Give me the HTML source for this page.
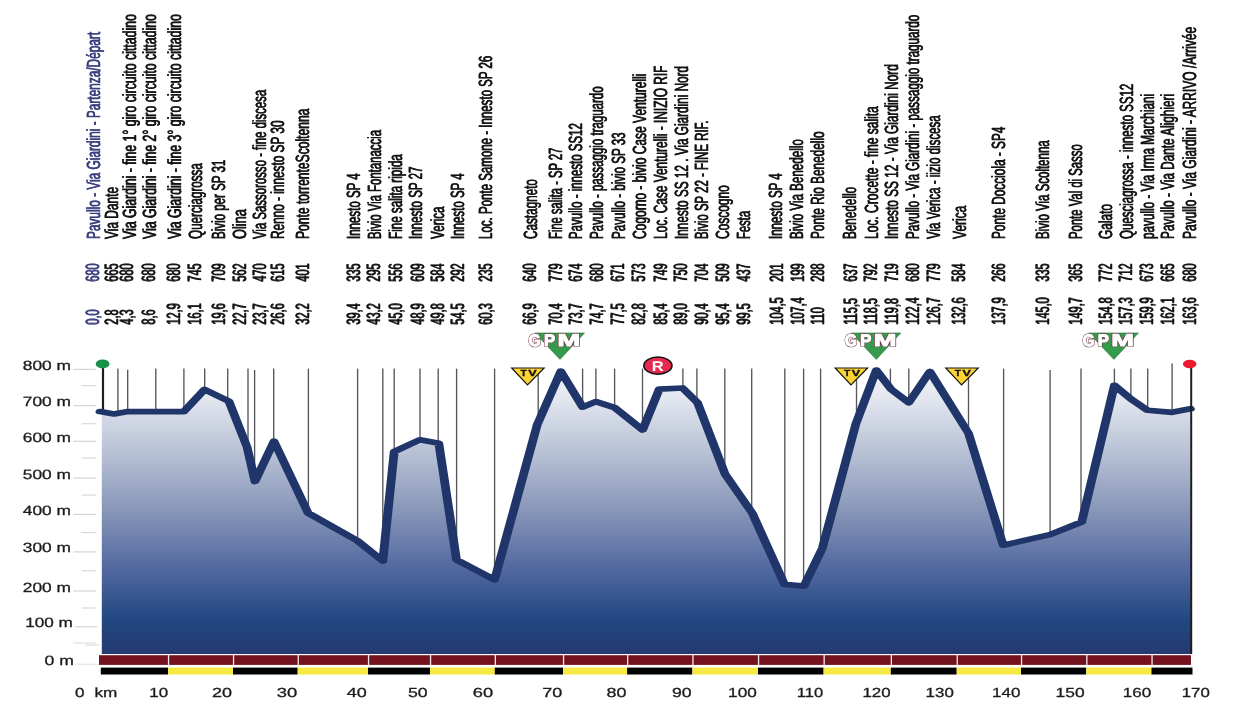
<!DOCTYPE html><html><head><meta charset="utf-8"><title>Profile</title><style>html,body{margin:0;padding:0;background:#fff}svg{display:block;filter:blur(0.4px)}#labels text,.ns{vector-effect:non-scaling-stroke}</style></head><body>
<svg width="1244" height="704" viewBox="0 0 1244 704" text-rendering="geometricPrecision" font-family="'Liberation Sans', sans-serif">
<defs>
<linearGradient id="g" x1="0" y1="369" x2="0" y2="654" gradientUnits="userSpaceOnUse">
<stop offset="0" stop-color="#f2f4f8"/>
<stop offset="0.10" stop-color="#e3e7ef"/>
<stop offset="0.30" stop-color="#b6c0d4"/>
<stop offset="0.50" stop-color="#8795b8"/>
<stop offset="0.70" stop-color="#5269a0"/>
<stop offset="0.88" stop-color="#214781"/>
<stop offset="1" stop-color="#263a70"/>
</linearGradient>
</defs>
<rect width="1244" height="704" fill="#fff"/>
<g id="labels" stroke-width="0.3">
<g id="ld">
<text transform="translate(99.3 324.93) rotate(-90) scale(0.5692 1)" font-size="19.2" fill="#3b3f7d" stroke="#3b3f7d">0,0</text>
<text transform="translate(99.3 281.93) rotate(-90) scale(0.5692 1)" font-size="19.2" fill="#3b3f7d" stroke="#3b3f7d">680</text>
<text transform="translate(117.7 324.93) rotate(-90) scale(0.5692 1)" font-size="19.2" fill="#141414" stroke="#141414">2,8</text>
<text transform="translate(117.7 281.93) rotate(-90) scale(0.5692 1)" font-size="19.2" fill="#141414" stroke="#141414">665</text>
<text transform="translate(132.9 324.93) rotate(-90) scale(0.5692 1)" font-size="19.2" fill="#141414" stroke="#141414">4,3</text>
<text transform="translate(132.9 281.93) rotate(-90) scale(0.5692 1)" font-size="19.2" fill="#141414" stroke="#141414">680</text>
<text transform="translate(155.4 324.93) rotate(-90) scale(0.5692 1)" font-size="19.2" fill="#141414" stroke="#141414">8,6</text>
<text transform="translate(155.4 281.93) rotate(-90) scale(0.5692 1)" font-size="19.2" fill="#141414" stroke="#141414">680</text>
<text transform="translate(180.4 324.93) rotate(-90) scale(0.5692 1)" font-size="19.2" fill="#141414" stroke="#141414">12,9</text>
<text transform="translate(180.4 281.93) rotate(-90) scale(0.5692 1)" font-size="19.2" fill="#141414" stroke="#141414">680</text>
<text transform="translate(201.2 324.93) rotate(-90) scale(0.5692 1)" font-size="19.2" fill="#141414" stroke="#141414">16,1</text>
<text transform="translate(201.2 281.93) rotate(-90) scale(0.5692 1)" font-size="19.2" fill="#141414" stroke="#141414">745</text>
<text transform="translate(224.5 324.93) rotate(-90) scale(0.5692 1)" font-size="19.2" fill="#141414" stroke="#141414">19,6</text>
<text transform="translate(224.5 281.93) rotate(-90) scale(0.5692 1)" font-size="19.2" fill="#141414" stroke="#141414">709</text>
<text transform="translate(246.1 324.93) rotate(-90) scale(0.5692 1)" font-size="19.2" fill="#141414" stroke="#141414">22,7</text>
<text transform="translate(246.1 281.93) rotate(-90) scale(0.5692 1)" font-size="19.2" fill="#141414" stroke="#141414">562</text>
<text transform="translate(266.1 324.93) rotate(-90) scale(0.5692 1)" font-size="19.2" fill="#141414" stroke="#141414">23,7</text>
<text transform="translate(266.1 281.93) rotate(-90) scale(0.5692 1)" font-size="19.2" fill="#141414" stroke="#141414">470</text>
<text transform="translate(283.5 324.93) rotate(-90) scale(0.5692 1)" font-size="19.2" fill="#141414" stroke="#141414">26,6</text>
<text transform="translate(283.5 281.93) rotate(-90) scale(0.5692 1)" font-size="19.2" fill="#141414" stroke="#141414">615</text>
<text transform="translate(308.8 324.93) rotate(-90) scale(0.5692 1)" font-size="19.2" fill="#141414" stroke="#141414">32,2</text>
<text transform="translate(308.8 281.93) rotate(-90) scale(0.5692 1)" font-size="19.2" fill="#141414" stroke="#141414">401</text>
<text transform="translate(359.6 324.93) rotate(-90) scale(0.5692 1)" font-size="19.2" fill="#141414" stroke="#141414">39,4</text>
<text transform="translate(359.6 281.93) rotate(-90) scale(0.5692 1)" font-size="19.2" fill="#141414" stroke="#141414">335</text>
<text transform="translate(380.4 324.93) rotate(-90) scale(0.5692 1)" font-size="19.2" fill="#141414" stroke="#141414">43,2</text>
<text transform="translate(380.4 281.93) rotate(-90) scale(0.5692 1)" font-size="19.2" fill="#141414" stroke="#141414">295</text>
<text transform="translate(402.0 324.93) rotate(-90) scale(0.5692 1)" font-size="19.2" fill="#141414" stroke="#141414">45,0</text>
<text transform="translate(402.0 281.93) rotate(-90) scale(0.5692 1)" font-size="19.2" fill="#141414" stroke="#141414">556</text>
<text transform="translate(423.6 324.93) rotate(-90) scale(0.5692 1)" font-size="19.2" fill="#141414" stroke="#141414">48,9</text>
<text transform="translate(423.6 281.93) rotate(-90) scale(0.5692 1)" font-size="19.2" fill="#141414" stroke="#141414">609</text>
<text transform="translate(443.6 324.93) rotate(-90) scale(0.5692 1)" font-size="19.2" fill="#141414" stroke="#141414">49,8</text>
<text transform="translate(443.6 281.93) rotate(-90) scale(0.5692 1)" font-size="19.2" fill="#141414" stroke="#141414">584</text>
<text transform="translate(464.4 324.93) rotate(-90) scale(0.5692 1)" font-size="19.2" fill="#141414" stroke="#141414">54,5</text>
<text transform="translate(464.4 281.93) rotate(-90) scale(0.5692 1)" font-size="19.2" fill="#141414" stroke="#141414">292</text>
<text transform="translate(492.2 324.93) rotate(-90) scale(0.5692 1)" font-size="19.2" fill="#141414" stroke="#141414">60,3</text>
<text transform="translate(492.2 281.93) rotate(-90) scale(0.5692 1)" font-size="19.2" fill="#141414" stroke="#141414">235</text>
<text transform="translate(536.3 324.93) rotate(-90) scale(0.5692 1)" font-size="19.2" fill="#141414" stroke="#141414">66,9</text>
<text transform="translate(536.3 281.93) rotate(-90) scale(0.5692 1)" font-size="19.2" fill="#141414" stroke="#141414">640</text>
<text transform="translate(562.0 324.93) rotate(-90) scale(0.5692 1)" font-size="19.2" fill="#141414" stroke="#141414">70,4</text>
<text transform="translate(562.0 281.93) rotate(-90) scale(0.5692 1)" font-size="19.2" fill="#141414" stroke="#141414">779</text>
<text transform="translate(582.0 324.93) rotate(-90) scale(0.5692 1)" font-size="19.2" fill="#141414" stroke="#141414">73,7</text>
<text transform="translate(582.0 281.93) rotate(-90) scale(0.5692 1)" font-size="19.2" fill="#141414" stroke="#141414">674</text>
<text transform="translate(602.8 324.93) rotate(-90) scale(0.5692 1)" font-size="19.2" fill="#141414" stroke="#141414">74,7</text>
<text transform="translate(602.8 281.93) rotate(-90) scale(0.5692 1)" font-size="19.2" fill="#141414" stroke="#141414">680</text>
<text transform="translate(624.4 324.93) rotate(-90) scale(0.5692 1)" font-size="19.2" fill="#141414" stroke="#141414">77,5</text>
<text transform="translate(624.4 281.93) rotate(-90) scale(0.5692 1)" font-size="19.2" fill="#141414" stroke="#141414">671</text>
<text transform="translate(645.2 324.93) rotate(-90) scale(0.5692 1)" font-size="19.2" fill="#141414" stroke="#141414">82,8</text>
<text transform="translate(645.2 281.93) rotate(-90) scale(0.5692 1)" font-size="19.2" fill="#141414" stroke="#141414">573</text>
<text transform="translate(666.9 324.93) rotate(-90) scale(0.5692 1)" font-size="19.2" fill="#141414" stroke="#141414">85,4</text>
<text transform="translate(666.9 281.93) rotate(-90) scale(0.5692 1)" font-size="19.2" fill="#141414" stroke="#141414">749</text>
<text transform="translate(687.2 324.93) rotate(-90) scale(0.5692 1)" font-size="19.2" fill="#141414" stroke="#141414">89,0</text>
<text transform="translate(687.2 281.93) rotate(-90) scale(0.5692 1)" font-size="19.2" fill="#141414" stroke="#141414">750</text>
<text transform="translate(708.0 324.93) rotate(-90) scale(0.5692 1)" font-size="19.2" fill="#141414" stroke="#141414">90,4</text>
<text transform="translate(708.0 281.93) rotate(-90) scale(0.5692 1)" font-size="19.2" fill="#141414" stroke="#141414">704</text>
<text transform="translate(728.8 324.93) rotate(-90) scale(0.5692 1)" font-size="19.2" fill="#141414" stroke="#141414">95,4</text>
<text transform="translate(728.8 281.93) rotate(-90) scale(0.5692 1)" font-size="19.2" fill="#141414" stroke="#141414">509</text>
<text transform="translate(749.6 324.93) rotate(-90) scale(0.5692 1)" font-size="19.2" fill="#141414" stroke="#141414">99,5</text>
<text transform="translate(749.6 281.93) rotate(-90) scale(0.5692 1)" font-size="19.2" fill="#141414" stroke="#141414">437</text>
<text transform="translate(782.8 324.93) rotate(-90) scale(0.5692 1)" font-size="19.2" fill="#141414" stroke="#141414">104,5</text>
<text transform="translate(782.8 281.93) rotate(-90) scale(0.5692 1)" font-size="19.2" fill="#141414" stroke="#141414">201</text>
<text transform="translate(803.6 324.93) rotate(-90) scale(0.5692 1)" font-size="19.2" fill="#141414" stroke="#141414">107,4</text>
<text transform="translate(803.6 281.93) rotate(-90) scale(0.5692 1)" font-size="19.2" fill="#141414" stroke="#141414">199</text>
<text transform="translate(824.4 324.93) rotate(-90) scale(0.5692 1)" font-size="19.2" fill="#141414" stroke="#141414">110</text>
<text transform="translate(824.4 281.93) rotate(-90) scale(0.5692 1)" font-size="19.2" fill="#141414" stroke="#141414">288</text>
<text transform="translate(856.9 324.93) rotate(-90) scale(0.5692 1)" font-size="19.2" fill="#141414" stroke="#141414">115,5</text>
<text transform="translate(856.9 281.93) rotate(-90) scale(0.5692 1)" font-size="19.2" fill="#141414" stroke="#141414">637</text>
<text transform="translate(877.2 324.93) rotate(-90) scale(0.5692 1)" font-size="19.2" fill="#141414" stroke="#141414">118,5</text>
<text transform="translate(877.2 281.93) rotate(-90) scale(0.5692 1)" font-size="19.2" fill="#141414" stroke="#141414">792</text>
<text transform="translate(898.0 324.93) rotate(-90) scale(0.5692 1)" font-size="19.2" fill="#141414" stroke="#141414">119,8</text>
<text transform="translate(898.0 281.93) rotate(-90) scale(0.5692 1)" font-size="19.2" fill="#141414" stroke="#141414">719</text>
<text transform="translate(918.8 324.93) rotate(-90) scale(0.5692 1)" font-size="19.2" fill="#141414" stroke="#141414">122,4</text>
<text transform="translate(918.8 281.93) rotate(-90) scale(0.5692 1)" font-size="19.2" fill="#141414" stroke="#141414">680</text>
<text transform="translate(939.6 324.93) rotate(-90) scale(0.5692 1)" font-size="19.2" fill="#141414" stroke="#141414">126,7</text>
<text transform="translate(939.6 281.93) rotate(-90) scale(0.5692 1)" font-size="19.2" fill="#141414" stroke="#141414">779</text>
<text transform="translate(965.3 324.93) rotate(-90) scale(0.5692 1)" font-size="19.2" fill="#141414" stroke="#141414">132,6</text>
<text transform="translate(965.3 281.93) rotate(-90) scale(0.5692 1)" font-size="19.2" fill="#141414" stroke="#141414">584</text>
<text transform="translate(1005.3 324.93) rotate(-90) scale(0.5692 1)" font-size="19.2" fill="#141414" stroke="#141414">137,9</text>
<text transform="translate(1005.3 281.93) rotate(-90) scale(0.5692 1)" font-size="19.2" fill="#141414" stroke="#141414">266</text>
<text transform="translate(1048.5 324.93) rotate(-90) scale(0.5692 1)" font-size="19.2" fill="#141414" stroke="#141414">145,0</text>
<text transform="translate(1048.5 281.93) rotate(-90) scale(0.5692 1)" font-size="19.2" fill="#141414" stroke="#141414">335</text>
<text transform="translate(1081.6 324.93) rotate(-90) scale(0.5692 1)" font-size="19.2" fill="#141414" stroke="#141414">149,7</text>
<text transform="translate(1081.6 281.93) rotate(-90) scale(0.5692 1)" font-size="19.2" fill="#141414" stroke="#141414">365</text>
<text transform="translate(1111.6 324.93) rotate(-90) scale(0.5692 1)" font-size="19.2" fill="#141414" stroke="#141414">154,8</text>
<text transform="translate(1111.6 281.93) rotate(-90) scale(0.5692 1)" font-size="19.2" fill="#141414" stroke="#141414">772</text>
<text transform="translate(1132.4 324.93) rotate(-90) scale(0.5692 1)" font-size="19.2" fill="#141414" stroke="#141414">157,3</text>
<text transform="translate(1132.4 281.93) rotate(-90) scale(0.5692 1)" font-size="19.2" fill="#141414" stroke="#141414">712</text>
<text transform="translate(1153.2 324.93) rotate(-90) scale(0.5692 1)" font-size="19.2" fill="#141414" stroke="#141414">159,9</text>
<text transform="translate(1153.2 281.93) rotate(-90) scale(0.5692 1)" font-size="19.2" fill="#141414" stroke="#141414">673</text>
<text transform="translate(1174.0 324.93) rotate(-90) scale(0.5692 1)" font-size="19.2" fill="#141414" stroke="#141414">162,1</text>
<text transform="translate(1174.0 281.93) rotate(-90) scale(0.5692 1)" font-size="19.2" fill="#141414" stroke="#141414">665</text>
<text transform="translate(1195.6 324.93) rotate(-90) scale(0.5692 1)" font-size="19.2" fill="#141414" stroke="#141414">163,6</text>
<text transform="translate(1195.6 281.93) rotate(-90) scale(0.5692 1)" font-size="19.2" fill="#141414" stroke="#141414">680</text>
</g>
<use href="#ld" transform="translate(0 -0.65)"/>
<g id="ln">
<text transform="translate(99.6 239.2) rotate(-90)" font-size="19.0" fill="#3b3f7d" stroke="#3b3f7d" textLength="207.1" lengthAdjust="spacingAndGlyphs">Pavullo - Via Giardini - Partenza/Départ</text>
<text transform="translate(118.0 239.2) rotate(-90)" font-size="19.0" fill="#141414" stroke="#141414" textLength="52.1" lengthAdjust="spacingAndGlyphs">Via Dante</text>
<text transform="translate(135.8 239.2) rotate(-90)" font-size="19.0" fill="#141414" stroke="#141414" textLength="224.9" lengthAdjust="spacingAndGlyphs">Via Giardini - fine 1° giro circuito cittadino</text>
<text transform="translate(155.7 239.2) rotate(-90)" font-size="19.0" fill="#141414" stroke="#141414" textLength="224.9" lengthAdjust="spacingAndGlyphs">Via Giardini - fine 2° giro circuito cittadino</text>
<text transform="translate(180.7 239.2) rotate(-90)" font-size="19.0" fill="#141414" stroke="#141414" textLength="224.9" lengthAdjust="spacingAndGlyphs">Via Giardini - fine 3° giro circuito cittadino</text>
<text transform="translate(201.5 239.2) rotate(-90)" font-size="19.0" fill="#141414" stroke="#141414" textLength="75.9" lengthAdjust="spacingAndGlyphs">Querciagrossa</text>
<text transform="translate(224.8 239.2) rotate(-90)" font-size="19.0" fill="#141414" stroke="#141414" textLength="79.3" lengthAdjust="spacingAndGlyphs">Bivio per SP 31</text>
<text transform="translate(246.4 239.2) rotate(-90)" font-size="19.0" fill="#141414" stroke="#141414" textLength="29.9" lengthAdjust="spacingAndGlyphs">Olina</text>
<text transform="translate(266.4 239.2) rotate(-90)" font-size="19.0" fill="#141414" stroke="#141414" textLength="149.2" lengthAdjust="spacingAndGlyphs">Via Sassorosso - fine discesa</text>
<text transform="translate(283.8 239.2) rotate(-90)" font-size="19.0" fill="#141414" stroke="#141414" textLength="118.5" lengthAdjust="spacingAndGlyphs">Renno - innesto SP 30</text>
<text transform="translate(309.1 239.2) rotate(-90)" font-size="19.0" fill="#141414" stroke="#141414" textLength="130.4" lengthAdjust="spacingAndGlyphs">Ponte torrenteScoltenna</text>
<text transform="translate(359.9 239.2) rotate(-90)" font-size="19.0" fill="#141414" stroke="#141414" textLength="65.7" lengthAdjust="spacingAndGlyphs">Innesto SP 4</text>
<text transform="translate(380.7 239.2) rotate(-90)" font-size="19.0" fill="#141414" stroke="#141414" textLength="109.0" lengthAdjust="spacingAndGlyphs">Bivio Via Fontanaccia</text>
<text transform="translate(402.3 239.2) rotate(-90)" font-size="19.0" fill="#141414" stroke="#141414" textLength="84.8" lengthAdjust="spacingAndGlyphs">Fine salita ripida</text>
<text transform="translate(422.0 239.2) rotate(-90)" font-size="19.0" fill="#141414" stroke="#141414" textLength="72.5" lengthAdjust="spacingAndGlyphs">Innesto SP 27</text>
<text transform="translate(443.9 239.2) rotate(-90)" font-size="19.0" fill="#141414" stroke="#141414" textLength="32.6" lengthAdjust="spacingAndGlyphs">Verica</text>
<text transform="translate(463.7 239.2) rotate(-90)" font-size="19.0" fill="#141414" stroke="#141414" textLength="65.7" lengthAdjust="spacingAndGlyphs">Innesto SP 4</text>
<text transform="translate(491.7 239.2) rotate(-90)" font-size="19.0" fill="#141414" stroke="#141414" textLength="183.3" lengthAdjust="spacingAndGlyphs">Loc. Ponte Samone - Innesto SP 26</text>
<text transform="translate(536.6 239.2) rotate(-90)" font-size="19.0" fill="#141414" stroke="#141414" textLength="59.9" lengthAdjust="spacingAndGlyphs">Castagneto</text>
<text transform="translate(562.3 239.2) rotate(-90)" font-size="19.0" fill="#141414" stroke="#141414" textLength="91.3" lengthAdjust="spacingAndGlyphs">Fine salita - SP 27</text>
<text transform="translate(582.3 239.2) rotate(-90)" font-size="19.0" fill="#141414" stroke="#141414" textLength="115.8" lengthAdjust="spacingAndGlyphs">Pavullo - innesto SS12</text>
<text transform="translate(603.1 239.2) rotate(-90)" font-size="19.0" fill="#141414" stroke="#141414" textLength="152.6" lengthAdjust="spacingAndGlyphs">Pavullo - passaggio traguardo</text>
<text transform="translate(624.7 239.2) rotate(-90)" font-size="19.0" fill="#141414" stroke="#141414" textLength="106.6" lengthAdjust="spacingAndGlyphs">Pavullo - bivio SP 33</text>
<text transform="translate(645.5 239.2) rotate(-90)" font-size="19.0" fill="#141414" stroke="#141414" textLength="165.4" lengthAdjust="spacingAndGlyphs">Cogorno - bivio Case Venturelli</text>
<text transform="translate(667.2 239.2) rotate(-90)" font-size="19.0" fill="#141414" stroke="#141414" textLength="173.4" lengthAdjust="spacingAndGlyphs">Loc. Case Venturelli - INIZIO RIF</text>
<text transform="translate(687.5 239.2) rotate(-90)" font-size="19.0" fill="#141414" stroke="#141414" textLength="173.1" lengthAdjust="spacingAndGlyphs">Innesto SS 12 . Via Giardini Nord</text>
<text transform="translate(708.3 239.2) rotate(-90)" font-size="19.0" fill="#141414" stroke="#141414" textLength="118.5" lengthAdjust="spacingAndGlyphs">Bivio SP 22 - FINE RIF.</text>
<text transform="translate(729.1 239.2) rotate(-90)" font-size="19.0" fill="#141414" stroke="#141414" textLength="53.8" lengthAdjust="spacingAndGlyphs">Coscogno</text>
<text transform="translate(749.9 239.2) rotate(-90)" font-size="19.0" fill="#141414" stroke="#141414" textLength="28.2" lengthAdjust="spacingAndGlyphs">Festa</text>
<text transform="translate(781.9 239.2) rotate(-90)" font-size="19.0" fill="#141414" stroke="#141414" textLength="65.7" lengthAdjust="spacingAndGlyphs">Innesto SP 4</text>
<text transform="translate(802.9 239.2) rotate(-90)" font-size="19.0" fill="#141414" stroke="#141414" textLength="99.8" lengthAdjust="spacingAndGlyphs">Bivio Via Benedello</text>
<text transform="translate(823.7 239.2) rotate(-90)" font-size="19.0" fill="#141414" stroke="#141414" textLength="107.6" lengthAdjust="spacingAndGlyphs">Ponte Rio Benedello</text>
<text transform="translate(856.4 239.2) rotate(-90)" font-size="19.0" fill="#141414" stroke="#141414" textLength="52.1" lengthAdjust="spacingAndGlyphs">Benedello</text>
<text transform="translate(877.5 239.2) rotate(-90)" font-size="19.0" fill="#141414" stroke="#141414" textLength="132.8" lengthAdjust="spacingAndGlyphs">Loc. Crocette - fine salita</text>
<text transform="translate(898.3 239.2) rotate(-90)" font-size="19.0" fill="#141414" stroke="#141414" textLength="174.8" lengthAdjust="spacingAndGlyphs">Innesto SS 12 - Via Giardini Nord</text>
<text transform="translate(919.1 239.2) rotate(-90)" font-size="19.0" fill="#141414" stroke="#141414" textLength="224.2" lengthAdjust="spacingAndGlyphs">Pavullo - Via Giardini - passaggio traguardo</text>
<text transform="translate(939.9 239.2) rotate(-90)" font-size="19.0" fill="#141414" stroke="#141414" textLength="123.6" lengthAdjust="spacingAndGlyphs">Via Verica - iizio discesa</text>
<text transform="translate(965.6 239.2) rotate(-90)" font-size="19.0" fill="#141414" stroke="#141414" textLength="33.3" lengthAdjust="spacingAndGlyphs">Verica</text>
<text transform="translate(1004.6 239.2) rotate(-90)" font-size="19.0" fill="#141414" stroke="#141414" textLength="112.4" lengthAdjust="spacingAndGlyphs">Ponte Docciola - SP4</text>
<text transform="translate(1048.8 239.2) rotate(-90)" font-size="19.0" fill="#141414" stroke="#141414" textLength="98.7" lengthAdjust="spacingAndGlyphs">Bivio Via Scoltenna</text>
<text transform="translate(1081.9 239.2) rotate(-90)" font-size="19.0" fill="#141414" stroke="#141414" textLength="94.7" lengthAdjust="spacingAndGlyphs">Ponte Val di Sasso</text>
<text transform="translate(1111.9 239.2) rotate(-90)" font-size="19.0" fill="#141414" stroke="#141414" textLength="35.0" lengthAdjust="spacingAndGlyphs">Galato</text>
<text transform="translate(1132.7 239.2) rotate(-90)" font-size="19.0" fill="#141414" stroke="#141414" textLength="155.3" lengthAdjust="spacingAndGlyphs">Quesciagrossa - innesto SS12</text>
<text transform="translate(1153.5 239.2) rotate(-90)" font-size="19.0" fill="#141414" stroke="#141414" textLength="145.1" lengthAdjust="spacingAndGlyphs">pavullo - Via Irma Marchiani</text>
<text transform="translate(1174.3 239.2) rotate(-90)" font-size="19.0" fill="#141414" stroke="#141414" textLength="145.1" lengthAdjust="spacingAndGlyphs">Pavullo - Via Dante Alighieri</text>
<text transform="translate(1195.9 239.2) rotate(-90)" font-size="19.0" fill="#141414" stroke="#141414" textLength="212.2" lengthAdjust="spacingAndGlyphs">Pavullo - Via Giardini - ARRIVO /Arrivée</text>
</g>
<use href="#ln" transform="translate(0 -0.4)"/>
</g>
<g id="yaxis" font-size="13.4" fill="#1c1c1c" stroke="#1c1c1c" stroke-width="0.3">
<line x1="73.3" x2="95.8" y1="369.4" y2="369.4" stroke="#d4d4d0" stroke-width="1.2"/>
<text x="22.8" y="369.9" textLength="48.1" lengthAdjust="spacingAndGlyphs">800 m</text>
<line x1="73.3" x2="95.8" y1="405.7" y2="405.7" stroke="#d4d4d0" stroke-width="1.2"/>
<text x="22.8" y="406.2" textLength="48.1" lengthAdjust="spacingAndGlyphs">700 m</text>
<line x1="73.3" x2="95.8" y1="441.3" y2="441.3" stroke="#d4d4d0" stroke-width="1.2"/>
<text x="22.8" y="441.8" textLength="48.1" lengthAdjust="spacingAndGlyphs">600 m</text>
<line x1="73.3" x2="95.8" y1="478.1" y2="478.1" stroke="#d4d4d0" stroke-width="1.2"/>
<text x="22.8" y="478.6" textLength="48.1" lengthAdjust="spacingAndGlyphs">500 m</text>
<line x1="73.3" x2="95.8" y1="514.4" y2="514.4" stroke="#d4d4d0" stroke-width="1.2"/>
<text x="22.8" y="514.9" textLength="48.1" lengthAdjust="spacingAndGlyphs">400 m</text>
<line x1="73.3" x2="95.8" y1="551.9" y2="551.9" stroke="#d4d4d0" stroke-width="1.2"/>
<text x="22.8" y="552.4" textLength="48.1" lengthAdjust="spacingAndGlyphs">300 m</text>
<line x1="73.3" x2="95.8" y1="591.0" y2="591.0" stroke="#d4d4d0" stroke-width="1.2"/>
<text x="22.8" y="591.5" textLength="48.1" lengthAdjust="spacingAndGlyphs">200 m</text>
<line x1="75.2" x2="97" y1="626.8" y2="626.8" stroke="#d4d4d0" stroke-width="1.2"/>
<text x="25.2" y="627.3" textLength="47.6" lengthAdjust="spacingAndGlyphs">100 m</text>
<line x1="75.7" x2="98" y1="664.3" y2="664.3" stroke="#e6e6e3" stroke-width="1.2"/>
<text x="44.5" y="664.8" textLength="29.3" lengthAdjust="spacingAndGlyphs">0 m</text>
<line x1="81.7" x2="95.8" y1="385.7" y2="385.7" stroke="#d8d8d4" stroke-width="1.2"/>
<line x1="81.7" x2="95.8" y1="423.7" y2="423.7" stroke="#d8d8d4" stroke-width="1.2"/>
<line x1="81.7" x2="95.8" y1="458.1" y2="458.1" stroke="#d8d8d4" stroke-width="1.2"/>
<line x1="81.7" x2="95.8" y1="495.1" y2="495.1" stroke="#d8d8d4" stroke-width="1.2"/>
<line x1="81.7" x2="95.8" y1="532.6" y2="532.6" stroke="#d8d8d4" stroke-width="1.2"/>
<line x1="81.7" x2="95.8" y1="570.8" y2="570.8" stroke="#d8d8d4" stroke-width="1.2"/>
<line x1="81.7" x2="95.8" y1="608.0" y2="608.0" stroke="#d8d8d4" stroke-width="1.2"/>
<line x1="73.3" x2="95.7" y1="643" y2="643" stroke="#dcdcd8" stroke-width="1.1"/>
<line x1="85.4" x2="98.9" y1="645" y2="645" stroke="#d8d8d4" stroke-width="1.1"/>
</g>
<g id="vlines" stroke="#56565c" stroke-width="1.35">
<line x1="117.9" x2="117.9" y1="368.6" y2="413.3"/>
<line x1="127.7" x2="127.7" y1="369.8" y2="411.7"/>
<line x1="155.8" x2="155.8" y1="368.6" y2="411.7"/>
<line x1="183.9" x2="183.9" y1="368.6" y2="411.5"/>
<line x1="204.7" x2="204.7" y1="368.6" y2="389.6"/>
<line x1="227.7" x2="227.7" y1="368.6" y2="400.7"/>
<line x1="248" x2="248" y1="368.6" y2="451.2"/>
<line x1="254.6" x2="254.6" y1="370.0" y2="479.8"/>
<line x1="273.7" x2="273.7" y1="368.6" y2="441.8"/>
<line x1="308.4" x2="308.4" y1="368.6" y2="513.2"/>
<line x1="357.6" x2="357.6" y1="368.6" y2="540.8"/>
<line x1="382.8" x2="382.8" y1="368.6" y2="561.0"/>
<line x1="394.2" x2="394.2" y1="368.6" y2="451.7"/>
<line x1="420" x2="420" y1="368.6" y2="439.8"/>
<line x1="438.2" x2="438.2" y1="368.6" y2="443.1"/>
<line x1="456.6" x2="456.6" y1="368.6" y2="559.9"/>
<line x1="494.6" x2="494.6" y1="368.6" y2="579.8"/>
<line x1="538.2" x2="538.2" y1="368.6" y2="422.5"/>
<line x1="561" x2="561" y1="368.6" y2="371.5"/>
<line x1="582.6" x2="582.6" y1="368.6" y2="407.1"/>
<line x1="595.9" x2="595.9" y1="368.6" y2="401.6"/>
<line x1="614.6" x2="614.6" y1="368.6" y2="407.7"/>
<line x1="642.5" x2="642.5" y1="368.6" y2="429.8"/>
<line x1="682.9" x2="682.9" y1="368.6" y2="388.4"/>
<line x1="696.9" x2="696.9" y1="368.6" y2="402.0"/>
<line x1="724.8" x2="724.8" y1="368.6" y2="473.5"/>
<line x1="751.7" x2="751.7" y1="368.6" y2="512.3"/>
<line x1="784.8" x2="784.8" y1="368.6" y2="584.4"/>
<line x1="803.6" x2="803.6" y1="368.6" y2="586.1"/>
<line x1="820.6" x2="820.6" y1="368.6" y2="551.8"/>
<line x1="856.5" x2="856.5" y1="368.6" y2="422.1"/>
<line x1="876.6" x2="876.6" y1="368.6" y2="370.5"/>
<line x1="890.4" x2="890.4" y1="368.6" y2="388.4"/>
<line x1="908.8" x2="908.8" y1="368.6" y2="402.6"/>
<line x1="930" x2="930" y1="368.6" y2="371.8"/>
<line x1="968.5" x2="968.5" y1="368.6" y2="433.3"/>
<line x1="1003.6" x2="1003.6" y1="368.6" y2="545.1"/>
<line x1="1050.1" x2="1050.1" y1="370.0" y2="534.6"/>
<line x1="1081" x2="1081" y1="368.6" y2="522.3"/>
<line x1="1114.4" x2="1114.4" y1="368.6" y2="385.4"/>
<line x1="1130.9" x2="1130.9" y1="368.6" y2="399.0"/>
<line x1="1147.7" x2="1147.7" y1="368.6" y2="410.3"/>
<line x1="1172.1" x2="1172.1" y1="363.6" y2="412.3"/>
</g>
<line x1="103" x2="103" y1="364" y2="411" stroke="#1e1e22" stroke-width="2.2"/>
<path d="M101.8 654.0 L101.8 411.6 L113.9 414.0 L126.6 411.7 L183.7 411.7 L204.5 389.5 L228.9 401.3 L247.0 446.9 L255.0 481.5 L274.0 441.2 L308.1 513.0 L357.3 540.6 L382.8 561.0 L394.2 451.7 L419.8 439.8 L438.8 443.2 L456.5 559.8 L494.6 579.8 L537.2 424.8 L560.8 371.2 L582.6 407.1 L595.9 401.6 L614.6 407.7 L642.6 429.9 L659.3 389.0 L682.5 388.0 L697.5 402.6 L725.0 474.0 L752.3 513.2 L784.5 584.4 L803.9 586.1 L822.3 548.3 L856.1 423.1 L876.3 370.1 L890.9 389.0 L908.8 402.6 L929.9 371.6 L968.5 433.3 L1003.2 545.2 L1050.0 534.6 L1081.7 522.0 L1114.4 385.4 L1130.9 399.0 L1147.4 410.3 L1172.1 412.3 L1190.4 408.8 L1191.5 654.0 Z" fill="url(#g)"/>
<g transform="scale(1 0.65)"><path d="M100.0 633.2 L113.9 636.9 L126.6 633.4 L183.7 633.4 L204.5 599.2 L228.9 617.4 L247.0 687.5 L255.0 740.8 L274.0 678.8 L308.1 789.2 L357.3 831.7 L382.8 863.1 L394.2 694.9 L419.8 676.6 L438.8 681.8 L456.5 861.2 L494.6 892.0 L537.2 653.5 L560.8 571.1 L582.6 626.3 L595.9 617.8 L614.6 627.2 L642.6 661.4 L659.3 598.5 L682.5 596.9 L697.5 619.4 L725.0 729.2 L752.3 789.5 L784.5 899.1 L803.9 901.7 L822.3 843.5 L856.1 650.9 L876.3 569.4 L890.9 598.5 L908.8 619.4 L929.9 571.7 L968.5 666.6 L1003.2 838.8 L1050.0 822.5 L1081.7 803.1 L1114.4 592.9 L1130.9 613.8 L1147.4 631.2 L1172.1 634.3 L1190.4 628.9" fill="none" stroke="#20356a" stroke-width="8.8" stroke-linejoin="round" stroke-linecap="round"/></g>
<ellipse cx="102.6" cy="363.9" rx="6.9" ry="4.5" fill="#1a9048"/>
<line x1="1191.2" x2="1191.2" y1="364" y2="654" stroke="#1e1e22" stroke-width="2"/>
<ellipse cx="1189.7" cy="364" rx="6.8" ry="4.3" fill="#ec1c2e"/>
<g id="markers">
<path d="M534.8 332.9 L584.6 332.9 L560.0 359.5 Z" fill="#359a4b" stroke="#2d6d3c" stroke-width="0.5"/><text transform="translate(528.78 345.60) scale(0.912 1)" font-size="16.72" font-weight="bold" fill="#74384a" stroke="#74384a" stroke-width="2.2" stroke-linejoin="round">G</text><text transform="translate(543.88 345.60) scale(0.995 1)" font-size="16.72" font-weight="bold" fill="#74384a" stroke="#74384a" stroke-width="2.2" stroke-linejoin="round">P</text><text transform="translate(557.39 345.75) scale(1.591 1)" font-size="17.15" font-weight="bold" fill="#74384a" stroke="#74384a" stroke-width="1.9" stroke-linejoin="round">M</text><text transform="translate(528.78 345.60) scale(0.912 1)" font-size="16.72" font-weight="bold" fill="#fff" stroke="#fff" stroke-width="1.1" stroke-linejoin="round">G</text><text transform="translate(543.88 345.60) scale(0.995 1)" font-size="16.72" font-weight="bold" fill="#fff" stroke="#fff" stroke-width="1.1" stroke-linejoin="round">P</text><text transform="translate(557.39 345.75) scale(1.591 1)" font-size="17.15" font-weight="bold" fill="#fff" stroke="#fff" stroke-width="0.9" stroke-linejoin="round">M</text>
<path d="M851.1 332.9 L900.9 332.9 L876.3 359.5 Z" fill="#359a4b" stroke="#2d6d3c" stroke-width="0.5"/><text transform="translate(845.08 345.60) scale(0.912 1)" font-size="16.72" font-weight="bold" fill="#74384a" stroke="#74384a" stroke-width="2.2" stroke-linejoin="round">G</text><text transform="translate(860.18 345.60) scale(0.995 1)" font-size="16.72" font-weight="bold" fill="#74384a" stroke="#74384a" stroke-width="2.2" stroke-linejoin="round">P</text><text transform="translate(873.69 345.75) scale(1.591 1)" font-size="17.15" font-weight="bold" fill="#74384a" stroke="#74384a" stroke-width="1.9" stroke-linejoin="round">M</text><text transform="translate(845.08 345.60) scale(0.912 1)" font-size="16.72" font-weight="bold" fill="#fff" stroke="#fff" stroke-width="1.1" stroke-linejoin="round">G</text><text transform="translate(860.18 345.60) scale(0.995 1)" font-size="16.72" font-weight="bold" fill="#fff" stroke="#fff" stroke-width="1.1" stroke-linejoin="round">P</text><text transform="translate(873.69 345.75) scale(1.591 1)" font-size="17.15" font-weight="bold" fill="#fff" stroke="#fff" stroke-width="0.9" stroke-linejoin="round">M</text>
<path d="M1088.7 332.9 L1138.5 332.9 L1113.9 359.5 Z" fill="#359a4b" stroke="#2d6d3c" stroke-width="0.5"/><text transform="translate(1082.68 345.60) scale(0.912 1)" font-size="16.72" font-weight="bold" fill="#74384a" stroke="#74384a" stroke-width="2.2" stroke-linejoin="round">G</text><text transform="translate(1097.78 345.60) scale(0.995 1)" font-size="16.72" font-weight="bold" fill="#74384a" stroke="#74384a" stroke-width="2.2" stroke-linejoin="round">P</text><text transform="translate(1111.29 345.75) scale(1.591 1)" font-size="17.15" font-weight="bold" fill="#74384a" stroke="#74384a" stroke-width="1.9" stroke-linejoin="round">M</text><text transform="translate(1082.68 345.60) scale(0.912 1)" font-size="16.72" font-weight="bold" fill="#fff" stroke="#fff" stroke-width="1.1" stroke-linejoin="round">G</text><text transform="translate(1097.78 345.60) scale(0.995 1)" font-size="16.72" font-weight="bold" fill="#fff" stroke="#fff" stroke-width="1.1" stroke-linejoin="round">P</text><text transform="translate(1111.29 345.75) scale(1.591 1)" font-size="17.15" font-weight="bold" fill="#fff" stroke="#fff" stroke-width="0.9" stroke-linejoin="round">M</text>
<path d="M511.7 368.0 L544.1 368.0 L527.5 385.0 Z" fill="#fdd335" stroke="#17170f" stroke-width="1.2" stroke-linejoin="miter"/><text transform="translate(520.59 376.10) scale(1.149 1)" font-size="8.87" font-weight="bold" fill="#111" stroke="#111" stroke-width="0.35">T</text><text transform="translate(528.31 376.10) scale(1.416 1)" font-size="8.87" font-weight="bold" fill="#111" stroke="#111" stroke-width="0.35">V</text>
<path d="M835.2 368.0 L867.6 368.0 L851.0 385.0 Z" fill="#fdd335" stroke="#17170f" stroke-width="1.2" stroke-linejoin="miter"/><text transform="translate(844.09 376.10) scale(1.149 1)" font-size="8.87" font-weight="bold" fill="#111" stroke="#111" stroke-width="0.35">T</text><text transform="translate(851.81 376.10) scale(1.416 1)" font-size="8.87" font-weight="bold" fill="#111" stroke="#111" stroke-width="0.35">V</text>
<path d="M945.8 368.0 L978.2 368.0 L961.6 385.0 Z" fill="#fdd335" stroke="#17170f" stroke-width="1.2" stroke-linejoin="miter"/><text transform="translate(954.69 376.10) scale(1.149 1)" font-size="8.87" font-weight="bold" fill="#111" stroke="#111" stroke-width="0.35">T</text><text transform="translate(962.41 376.10) scale(1.416 1)" font-size="8.87" font-weight="bold" fill="#111" stroke="#111" stroke-width="0.35">V</text>
<ellipse cx="657.9" cy="365.6" rx="14.1" ry="8.6" fill="#e5294f" stroke="#111" stroke-width="1.5"/>
<text transform="translate(651.79 371.00) scale(1.173 1)" font-size="14.10" font-weight="bold" fill="#fff">R</text>
</g>
<g id="bars">
<rect x="99" y="655.2" width="1092" height="9.7" fill="#74121d"/>
<rect x="167.9" y="655" width="1.3" height="10.2" fill="#f4e9ea"/>
<rect x="232.9" y="655" width="1.3" height="10.2" fill="#f4e9ea"/>
<rect x="297.6" y="655" width="1.3" height="10.2" fill="#f4e9ea"/>
<rect x="367.9" y="655" width="1.3" height="10.2" fill="#f4e9ea"/>
<rect x="429.9" y="655" width="1.3" height="10.2" fill="#f4e9ea"/>
<rect x="494.7" y="655" width="1.3" height="10.2" fill="#f4e9ea"/>
<rect x="562.9" y="655" width="1.3" height="10.2" fill="#f4e9ea"/>
<rect x="627.0" y="655" width="1.3" height="10.2" fill="#f4e9ea"/>
<rect x="692.3" y="655" width="1.3" height="10.2" fill="#f4e9ea"/>
<rect x="757.9" y="655" width="1.3" height="10.2" fill="#f4e9ea"/>
<rect x="823.5" y="655" width="1.3" height="10.2" fill="#f4e9ea"/>
<rect x="890.7" y="655" width="1.3" height="10.2" fill="#f4e9ea"/>
<rect x="956.6" y="655" width="1.3" height="10.2" fill="#f4e9ea"/>
<rect x="1020.9" y="655" width="1.3" height="10.2" fill="#f4e9ea"/>
<rect x="1086.2" y="655" width="1.3" height="10.2" fill="#f4e9ea"/>
<rect x="1151.4" y="655" width="1.3" height="10.2" fill="#f4e9ea"/>
<rect x="100.8" y="667.6" width="67.2" height="6.9" fill="#000"/>
<rect x="168.0" y="667.6" width="65.0" height="6.9" fill="#f7e943"/>
<rect x="233.0" y="667.6" width="64.7" height="6.9" fill="#000"/>
<rect x="297.7" y="667.6" width="70.3" height="6.9" fill="#f7e943"/>
<rect x="368.0" y="667.6" width="62.0" height="6.9" fill="#000"/>
<rect x="430.0" y="667.6" width="64.8" height="6.9" fill="#f7e943"/>
<rect x="494.8" y="667.6" width="68.2" height="6.9" fill="#000"/>
<rect x="563.0" y="667.6" width="64.1" height="6.9" fill="#f7e943"/>
<rect x="627.1" y="667.6" width="65.3" height="6.9" fill="#000"/>
<rect x="692.4" y="667.6" width="65.6" height="6.9" fill="#f7e943"/>
<rect x="758.0" y="667.6" width="65.6" height="6.9" fill="#000"/>
<rect x="823.6" y="667.6" width="67.2" height="6.9" fill="#f7e943"/>
<rect x="890.8" y="667.6" width="65.9" height="6.9" fill="#000"/>
<rect x="956.7" y="667.6" width="64.3" height="6.9" fill="#f7e943"/>
<rect x="1021.0" y="667.6" width="65.3" height="6.9" fill="#000"/>
<rect x="1086.3" y="667.6" width="65.2" height="6.9" fill="#f7e943"/>
<rect x="1151.5" y="667.6" width="41.0" height="6.9" fill="#000"/>
</g>
<g id="kml" font-size="13.2" fill="#1c1c1c" stroke="#1c1c1c" stroke-width="0.3">
<text x="75.1" y="697.2" textLength="9.5" lengthAdjust="spacingAndGlyphs">0</text>
<text x="94.5" y="697.2" textLength="22.9" lengthAdjust="spacingAndGlyphs">km</text>
<text x="149.3" y="697.2" textLength="18.9" lengthAdjust="spacingAndGlyphs">10</text>
<text x="212.0" y="697.2" textLength="20.0" lengthAdjust="spacingAndGlyphs">20</text>
<text x="276.7" y="697.2" textLength="20.5" lengthAdjust="spacingAndGlyphs">30</text>
<text x="346.8" y="697.2" textLength="20.0" lengthAdjust="spacingAndGlyphs">40</text>
<text x="408.0" y="697.2" textLength="19.7" lengthAdjust="spacingAndGlyphs">50</text>
<text x="472.8" y="697.2" textLength="20.3" lengthAdjust="spacingAndGlyphs">60</text>
<text x="542.3" y="697.2" textLength="20.0" lengthAdjust="spacingAndGlyphs">70</text>
<text x="606.4" y="697.2" textLength="20.0" lengthAdjust="spacingAndGlyphs">80</text>
<text x="672.0" y="697.2" textLength="19.7" lengthAdjust="spacingAndGlyphs">90</text>
<text x="728.1" y="697.2" textLength="28.7" lengthAdjust="spacingAndGlyphs">100</text>
<text x="796.8" y="697.2" textLength="26.4" lengthAdjust="spacingAndGlyphs">110</text>
<text x="862.4" y="697.2" textLength="28.2" lengthAdjust="spacingAndGlyphs">120</text>
<text x="925.6" y="697.2" textLength="28.2" lengthAdjust="spacingAndGlyphs">130</text>
<text x="992.1" y="697.2" textLength="28.4" lengthAdjust="spacingAndGlyphs">140</text>
<text x="1055.5" y="697.2" textLength="29.1" lengthAdjust="spacingAndGlyphs">150</text>
<text x="1122.8" y="697.2" textLength="28.5" lengthAdjust="spacingAndGlyphs">160</text>
<text x="1181.7" y="697.2" textLength="28.1" lengthAdjust="spacingAndGlyphs">170</text>
</g>
</svg></body></html>
